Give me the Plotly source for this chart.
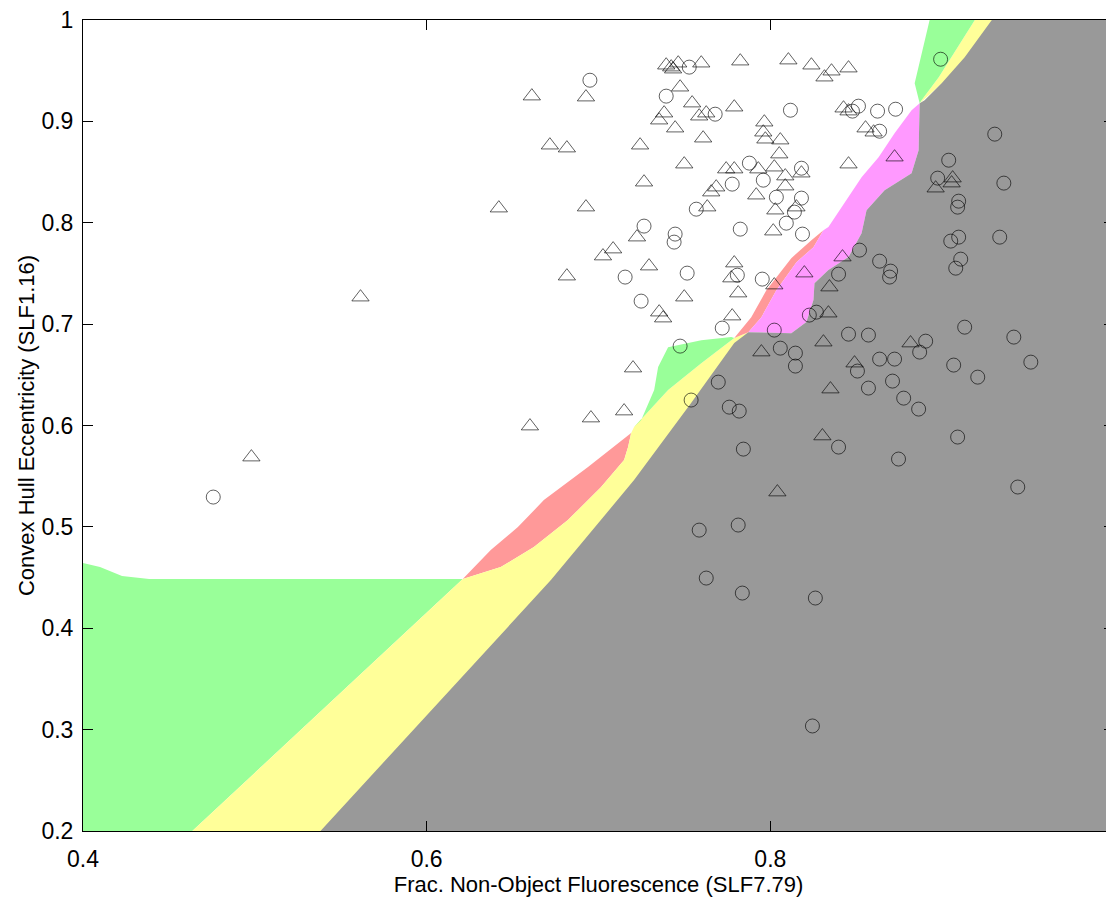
import plotly.graph_objects as go

# ---------------- decision-region boundaries (data coordinates) ----------------
green_low_x = [0.4, 0.4, 0.4099, 0.4227, 0.4385, 0.6210, 0.4636]
green_low_y = [0.2, 0.4643, 0.4604, 0.4515, 0.4485, 0.4485, 0.2]

salmon_low_x = [0.6210, 0.6373, 0.6531, 0.6682, 0.6939, 0.7090, 0.7190,
                0.7172, 0.7149, 0.7015, 0.6822, 0.6624, 0.6431]
salmon_low_y = [0.4485, 0.4771, 0.4998, 0.5264, 0.5590, 0.5787, 0.5925,
                0.5787, 0.5659, 0.5393, 0.5067, 0.4801, 0.4604]

yellow_x = [0.4636, 0.6210, 0.6431, 0.6624, 0.6822, 0.7015, 0.7149, 0.7172, 0.7190,
            0.7207, 0.7405, 0.7598, 0.7790, 0.7872, 0.7948, 0.7015]
yellow_y = [0.2, 0.4485, 0.4604, 0.4801, 0.5067, 0.5393, 0.5659, 0.5787, 0.5925,
            0.5984, 0.6349, 0.6615, 0.6862, 0.6921, 0.6250, 0.2]

green_mid_x = [0.7207, 0.7248, 0.7324, 0.7347, 0.7405, 0.7598, 0.7773, 0.7790,
               0.7598, 0.7405]
green_mid_y = [0.5984, 0.6053, 0.6349, 0.6576, 0.6773, 0.6842, 0.6872, 0.6862,
               0.6615, 0.6349]

salmon_strip_x = [0.7790, 0.7889, 0.7977, 0.8122, 0.8239, 0.8309,
                  0.8251, 0.8152, 0.8035, 0.7948, 0.7872]
salmon_strip_y = [0.6862, 0.7069, 0.7335, 0.7651, 0.7828, 0.7927,
                  0.7759, 0.7611, 0.7335, 0.7069, 0.6921]

magenta_x = [0.7872, 0.7948, 0.8035, 0.8152, 0.8251, 0.8309, 0.8338, 0.8431, 0.8531,
             0.8630, 0.8723, 0.8822, 0.8869, 0.8863, 0.8822, 0.8665, 0.8560, 0.8531,
             0.8455, 0.8338, 0.8257, 0.8251, 0.8210, 0.8122]
magenta_y = [0.6921, 0.7069, 0.7335, 0.7611, 0.7759, 0.7927, 0.7957, 0.8193, 0.8450,
             0.8647, 0.8884, 0.9110, 0.9180, 0.8716, 0.8489, 0.8321, 0.8124, 0.7897,
             0.7661, 0.7533, 0.7404, 0.7237, 0.7020, 0.6911]

yellow_top_x = [0.9190, 0.9055, 0.8980, 0.8880, 0.8869, 0.8950, 0.9400]
yellow_top_y = [1.0, 0.9633, 0.9436, 0.9209, 0.9180, 0.9300, 1.0]

gray_x = [0.5382, 0.6723, 0.7207, 0.7539, 0.7790, 0.7872, 0.8122, 0.8210, 0.8251,
          0.8257, 0.8338, 0.8455, 0.8531, 0.8560, 0.8665, 0.8822, 0.8863, 0.8869,
          0.8898, 0.8997, 0.9131, 0.9289, 1.0, 1.0]
gray_y = [0.2, 0.4475, 0.5462, 0.6221, 0.6813, 0.6921, 0.6911, 0.7020, 0.7237,
          0.7404, 0.7533, 0.7661, 0.7897, 0.8124, 0.8321, 0.8489, 0.8716, 0.9180,
          0.9209, 0.9377, 0.9633, 1.0, 1.0, 0.2]

green_top_x = [0.8927, 0.8898, 0.8863, 0.8840, 0.8869, 0.8880, 0.8980, 0.9055, 0.9190]
green_top_y = [1.0, 0.9801, 0.9535, 0.9377, 0.9180, 0.9209, 0.9436, 0.9633, 1.0]

# ---------------- samples ----------------
tri_x = [0.5615, 0.4980, 0.6420, 0.6601, 0.6612, 0.6927, 0.6717, 0.6816, 0.7242, 0.6927,
         0.7265, 0.7499, 0.7394, 0.7423, 0.7464, 0.7434, 0.7598, 0.7825, 0.8105, 0.8239,
         0.8315, 0.8356, 0.8455, 0.7475, 0.7545, 0.7382, 0.7353, 0.7586, 0.7627, 0.7790,
         0.7446, 0.7609, 0.7965, 0.7959, 0.7971, 0.8058, 0.8052, 0.7743, 0.7790, 0.7930,
         0.8023, 0.8181, 0.8087, 0.8087, 0.7685, 0.7656, 0.7918, 0.8029, 0.8152, 0.7633,
         0.8017, 0.7224, 0.7085, 0.7026, 0.7294, 0.6816, 0.7790, 0.7773, 0.7813, 0.7499,
         0.7353, 0.7376, 0.7778, 0.7201, 0.7149, 0.6956, 0.8426, 0.8455, 0.8554, 0.8601,
         0.8455, 0.8723, 0.9061, 0.9055, 0.8962, 0.8023, 0.8198, 0.8420, 0.8344, 0.8338,
         0.8309, 0.7948, 0.8816, 0.8490, 0.8350, 0.8303, 0.8041]
tri_y = [0.7266, 0.5688, 0.8144, 0.5994, 0.9249, 0.9239, 0.8765, 0.8736, 0.8765, 0.8154,
         0.8400, 0.8578, 0.9554, 0.9535, 0.9574, 0.9515, 0.9574, 0.9594, 0.9604, 0.9554,
         0.9436, 0.9495, 0.9525, 0.9337, 0.9180, 0.9081, 0.9012, 0.9051, 0.9081, 0.9140,
         0.8933, 0.8834, 0.8992, 0.8893, 0.8824, 0.8815, 0.8677, 0.8529, 0.8529, 0.8529,
         0.8548, 0.8489, 0.8460, 0.8361, 0.8351, 0.8302, 0.8272, 0.8124, 0.8154, 0.8154,
         0.7917, 0.7858, 0.7740, 0.7671, 0.7572, 0.7473, 0.7602, 0.7454, 0.7306, 0.7266,
         0.7118, 0.7059, 0.7079, 0.6566, 0.6142, 0.6073, 0.9130, 0.9101, 0.8933, 0.8893,
         0.8578, 0.8647, 0.8440, 0.8391, 0.8341, 0.7385, 0.7503, 0.7661, 0.7365, 0.7108,
         0.6822, 0.6724, 0.6813, 0.6615, 0.6359, 0.5896, 0.5343]

circ_x = [0.4758, 0.6950, 0.7394, 0.7528, 0.7679, 0.7878, 0.7778, 0.8117, 0.8478, 0.8513,
          0.8624, 0.8729, 0.8636, 0.8181, 0.7959, 0.8035, 0.8181, 0.8140, 0.8093, 0.8187,
          0.7569, 0.7265, 0.7446, 0.7440, 0.7825, 0.7516, 0.7155, 0.7808, 0.7953, 0.7248,
          0.7720, 0.7475, 0.8991, 0.9306, 0.9038, 0.8974, 0.9359, 0.9096, 0.9090, 0.9096,
          0.9050, 0.9335, 0.9108, 0.9079, 0.8519, 0.8636, 0.8700, 0.8694, 0.8397, 0.8227,
          0.8268, 0.8023, 0.8455, 0.8571, 0.8058, 0.8146, 0.8146, 0.8904, 0.8869, 0.9131,
          0.9417, 0.9516, 0.8507, 0.8636, 0.8723, 0.9067, 0.9207, 0.8711, 0.8571, 0.8776,
          0.8863, 0.8397, 0.9090, 0.8746, 0.9440, 0.7697, 0.7539, 0.7761, 0.7819, 0.7843,
          0.7813, 0.7586, 0.7627, 0.7837, 0.8262, 0.8245]
circ_y = [0.5294, 0.9406, 0.9249, 0.9535, 0.9071, 0.8588, 0.8381, 0.9110, 0.9101, 0.9150,
          0.9101, 0.9120, 0.8903, 0.8538, 0.8420, 0.8252, 0.8243, 0.8105, 0.7996, 0.7888,
          0.8134, 0.7967, 0.7888, 0.7809, 0.7937, 0.7503, 0.7464, 0.7483, 0.7444, 0.7227,
          0.6961, 0.6783, 0.9613, 0.8874, 0.8617, 0.8440, 0.8391, 0.8213, 0.8154, 0.7858,
          0.7819, 0.7858, 0.7641, 0.7552, 0.7730, 0.7621, 0.7523, 0.7464, 0.7493, 0.7089,
          0.7118, 0.6941, 0.6901, 0.6892, 0.6763, 0.6714, 0.6586, 0.6832, 0.6724, 0.6970,
          0.6872, 0.6625, 0.6537, 0.6655, 0.6655, 0.6596, 0.6477, 0.6438, 0.6369, 0.6270,
          0.6162, 0.5787, 0.5886, 0.5669, 0.5393, 0.6428, 0.6251, 0.6181, 0.6142, 0.5767,
          0.5018, 0.4968, 0.4495, 0.4347, 0.4298, 0.3036]

x_ticks = [0.4, 0.6, 0.8, 1.0]
x_labels = ["0.4", "0.6", "0.8", "1"]
y_ticks = [0.2, 0.3, 0.4, 0.5, 0.6, 0.7, 0.8, 0.9, 1.0]
y_labels = ["0.2", "0.3", "0.4", "0.5", "0.6", "0.7", "0.8", "0.9", "1"]

GRAY = "#999999"
GREEN = "#99FF99"
YELLOW = "#FFFF99"
SALMON = "#FF9999"
MAGENTA = "#FF99FF"

fig = go.Figure()


def region(xs, ys, color):
    fig.add_trace(go.Scatter(x=xs, y=ys, mode="lines", fill="toself",
                             fillcolor=color, line=dict(width=0, color=color),
                             hoverinfo="skip", showlegend=False))


region(green_low_x, green_low_y, GREEN)
region(salmon_low_x, salmon_low_y, SALMON)
region(yellow_x, yellow_y, YELLOW)
region(green_mid_x, green_mid_y, GREEN)
region(salmon_strip_x, salmon_strip_y, SALMON)
region(magenta_x, magenta_y, MAGENTA)
region(yellow_top_x, yellow_top_y, YELLOW)
region(gray_x, gray_y, GRAY)
region(green_top_x, green_top_y, GREEN)

edge = "rgba(0,0,0,0.62)"
fig.add_trace(go.Scatter(x=tri_x, y=tri_y, mode="markers", showlegend=False,
                         marker=dict(symbol="triangle-up-open", size=15,
                                     color=edge, line=dict(width=1, color=edge))))
fig.add_trace(go.Scatter(x=circ_x, y=circ_y, mode="markers", showlegend=False,
                         marker=dict(symbol="circle-open", size=14,
                                     color=edge, line=dict(width=1, color=edge))))

font = dict(family="Liberation Sans, Arial, Helvetica, sans-serif", color="black")
axis_common = dict(showgrid=False, zeroline=False, showline=True, linecolor="black",
                   linewidth=1, mirror="ticks", ticks="inside", ticklen=10,
                   tickwidth=1, tickcolor="black", automargin=False,
                   ticklabeloverflow="allow",
                   tickfont=dict(size=23, **font))

# The page body has an 8px default margin, so the figure is sized to fit the
# 1114x897 window and margins are reduced by 8px to keep the plot area in place.
fig.update_layout(
    width=1106, height=889,
    margin=dict(l=75, r=0, t=12, b=66, autoexpand=False),
    paper_bgcolor="white", plot_bgcolor="white",
    font=font,
    xaxis=dict(range=[0.4, 1.0], tickvals=x_ticks, ticktext=x_labels,
               title=dict(text="Frac. Non-Object Fluorescence (SLF7.79)",
                          font=dict(size=22, **font), standoff=6),
               ticklabelstandoff=7, **axis_common),
    yaxis=dict(range=[0.2, 1.0], tickvals=y_ticks, ticktext=y_labels,
               title=dict(text="Convex Hull Eccentricity (SLF1.16)",
                          font=dict(size=22, **font), standoff=0),
               ticklabelstandoff=4, **axis_common),
)

fig.write_html("out.html")
